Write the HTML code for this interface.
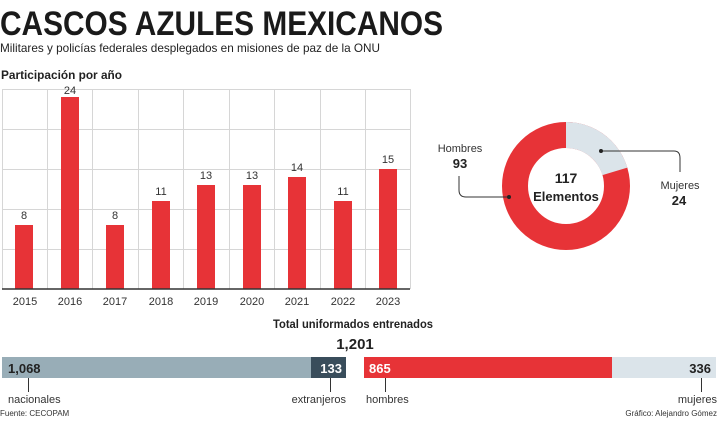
<!DOCTYPE html>
<html><head><meta charset="utf-8"><style>
html,body{margin:0;padding:0;background:#fff;}
svg{display:block;font-family:"Liberation Sans",sans-serif;}
</style></head><body>
<svg width="720" height="432" viewBox="0 0 720 432">
<text x="0" y="35" font-size="34" font-weight="bold" fill="#1a1a1a" textLength="443" lengthAdjust="spacingAndGlyphs">CASCOS AZULES MEXICANOS</text>
<text x="0" y="52" font-size="12" fill="#222" textLength="380" lengthAdjust="spacingAndGlyphs">Militares y policías federales desplegados en misiones de paz de la ONU</text>
<text x="1" y="79" font-size="12" font-weight="bold" fill="#222" textLength="121" lengthAdjust="spacingAndGlyphs">Participación por año</text>
<g stroke="#d6d6d6" stroke-width="1">
<line x1="2" y1="89.5" x2="410" y2="89.5"/><line x1="2" y1="129.5" x2="410" y2="129.5"/><line x1="2" y1="169.5" x2="410" y2="169.5"/><line x1="2" y1="209.5" x2="410" y2="209.5"/><line x1="2" y1="249.5" x2="410" y2="249.5"/>
<line x1="2.5" y1="89" x2="2.5" y2="289"/><line x1="47.5" y1="89" x2="47.5" y2="289"/><line x1="92.5" y1="89" x2="92.5" y2="289"/><line x1="138.5" y1="89" x2="138.5" y2="289"/><line x1="183.5" y1="89" x2="183.5" y2="289"/><line x1="229.5" y1="89" x2="229.5" y2="289"/><line x1="274.5" y1="89" x2="274.5" y2="289"/><line x1="320.5" y1="89" x2="320.5" y2="289"/><line x1="365.5" y1="89" x2="365.5" y2="289"/><line x1="410.5" y1="89" x2="410.5" y2="289"/>
</g>
<g fill="#e73337">
<rect x="15" y="225" width="18" height="64"/>
<rect x="61" y="97" width="18" height="192"/>
<rect x="106" y="225" width="18" height="64"/>
<rect x="152" y="201" width="18" height="88"/>
<rect x="197" y="185" width="18" height="104"/>
<rect x="243" y="185" width="18" height="104"/>
<rect x="288" y="177" width="18" height="112"/>
<rect x="334" y="201" width="18" height="88"/>
<rect x="379" y="169" width="18" height="120"/>
</g>
<line x1="2" y1="289" x2="410" y2="289" stroke="#333" stroke-width="1.5"/>
<g font-size="11" fill="#333" text-anchor="middle">
<text x="24" y="219">8</text><text x="70" y="94">24</text><text x="115" y="219">8</text><text x="161" y="195">11</text><text x="206" y="179">13</text><text x="252" y="179">13</text><text x="297" y="171">14</text><text x="343" y="195">11</text><text x="388" y="163">15</text>
<text x="25" y="305">2015</text><text x="70" y="305">2016</text><text x="115" y="305">2017</text><text x="161" y="305">2018</text><text x="206" y="305">2019</text><text x="252" y="305">2020</text><text x="297" y="305">2021</text><text x="343" y="305">2022</text><text x="388" y="305">2023</text>
</g>
<circle cx="566" cy="186" r="51" fill="none" stroke="#e73337" stroke-width="26"/>
<path d="M566 122 A64 64 0 0 1 627.3 167.6 L602.4 175.1 A38 38 0 0 0 566 148 Z" fill="#dbe4ea"/>
<text x="566" y="183" font-size="14" font-weight="bold" fill="#222" text-anchor="middle">117</text>
<text x="566" y="201" font-size="13" font-weight="bold" fill="#222" text-anchor="middle">Elementos</text>
<path d="M509 197 H466 Q459 197 459 190 V176" fill="none" stroke="#333" stroke-width="1"/>
<circle cx="509" cy="197" r="2" fill="#222"/>
<text x="460" y="152" font-size="11" fill="#333" text-anchor="middle">Hombres</text>
<text x="460" y="168" font-size="13" font-weight="bold" fill="#222" text-anchor="middle">93</text>
<path d="M601 151 H674 Q680 151 680 158 V172" fill="none" stroke="#333" stroke-width="1"/>
<circle cx="601" cy="151" r="2" fill="#222"/>
<text x="680" y="189" font-size="11" fill="#333" text-anchor="middle">Mujeres</text>
<text x="679" y="205" font-size="13" font-weight="bold" fill="#222" text-anchor="middle">24</text>
<text x="353" y="328" font-size="12" font-weight="bold" fill="#222" text-anchor="middle" textLength="160" lengthAdjust="spacingAndGlyphs">Total uniformados entrenados</text>
<text x="355" y="349" font-size="15" font-weight="bold" fill="#222" text-anchor="middle">1,201</text>
<rect x="2" y="357" width="309" height="21" fill="#98adb7"/>
<rect x="311" y="357" width="35" height="21" fill="#394d5b"/>
<rect x="364" y="357" width="248" height="21" fill="#e73337"/>
<rect x="612" y="357" width="104" height="21" fill="#dbe4ea"/>
<text x="8" y="373" font-size="13" font-weight="bold" fill="#222">1,068</text>
<text x="342" y="373" font-size="13" font-weight="bold" fill="#fff" text-anchor="end">133</text>
<text x="369" y="373" font-size="13" font-weight="bold" fill="#fff">865</text>
<text x="711" y="373" font-size="13" font-weight="bold" fill="#222" text-anchor="end">336</text>
<g stroke="#333"><line x1="28.5" y1="378" x2="28.5" y2="392"/><line x1="330.5" y1="378" x2="330.5" y2="392"/><line x1="385.5" y1="378" x2="385.5" y2="392"/><line x1="701.5" y1="378" x2="701.5" y2="392"/></g>
<g font-size="11" fill="#333">
<text x="8" y="403">nacionales</text>
<text x="346" y="403" text-anchor="end">extranjeros</text>
<text x="366" y="403">hombres</text>
<text x="717" y="403" text-anchor="end">mujeres</text>
</g>
<text x="0" y="416" font-size="8" fill="#333">Fuente: CECOPAM</text>
<text x="717" y="416" font-size="8" fill="#333" text-anchor="end">Gráfico: Alejandro Gómez</text>
</svg>
</body></html>
